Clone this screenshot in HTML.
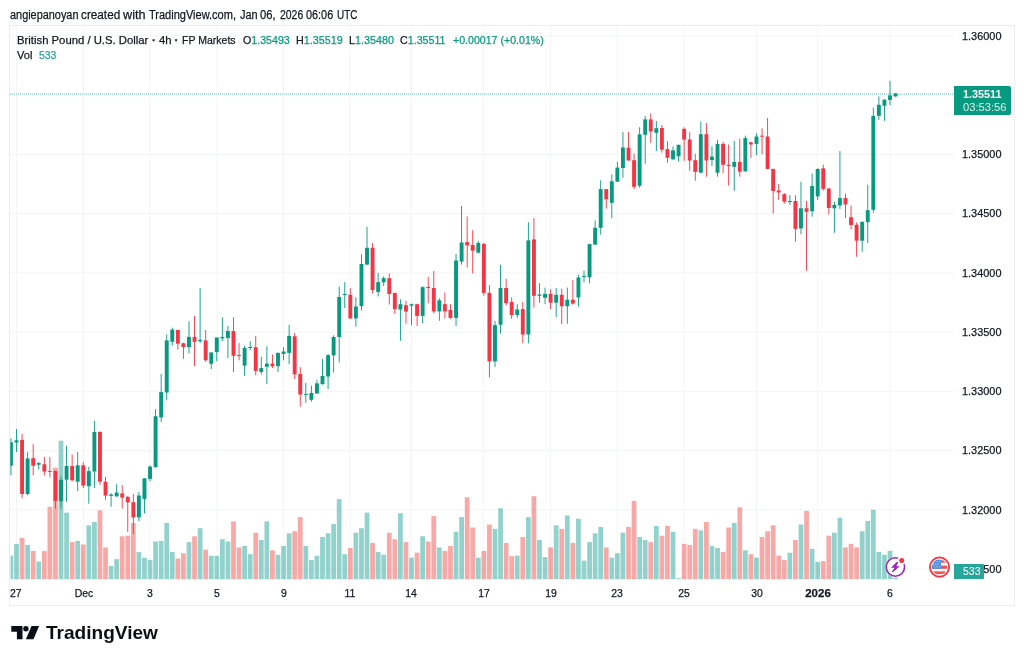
<!DOCTYPE html>
<html><head><meta charset="utf-8"><title>GBPUSD chart</title>
<style>
html,body{margin:0;padding:0;background:#fff;}
body{width:1024px;height:661px;position:relative;overflow:hidden;font-family:"Liberation Sans",sans-serif;color:#131722;}
.chart{position:absolute;left:0;top:0;}
.frame{position:absolute;left:9px;top:25px;width:1006px;height:581px;border:1px solid #ebecef;box-sizing:border-box;}
.t{position:absolute;white-space:nowrap;line-height:1;transform-origin:0 50%;-webkit-text-stroke:0.25px currentColor;}
.v{color:#089981;}
.pbox{position:absolute;left:954.2px;top:86px;width:56.7px;height:28.8px;background:#089981;border-radius:0 2px 2px 0;}
.vbox{position:absolute;left:954.2px;top:563.9px;width:30px;height:15.3px;background:#26a69a;border-radius:0 1px 1px 0;}
</style></head><body>
<div class="frame"></div>
<svg class="chart" width="1024" height="661" viewBox="0 0 1024 661">
<g stroke="#f3f4f6" stroke-width="1">
<line x1="16.5" y1="26" x2="16.5" y2="580"/>
<line x1="83.5" y1="26" x2="83.5" y2="580"/>
<line x1="150" y1="26" x2="150" y2="580"/>
<line x1="217" y1="26" x2="217" y2="580"/>
<line x1="283.5" y1="26" x2="283.5" y2="580"/>
<line x1="350" y1="26" x2="350" y2="580"/>
<line x1="411.3" y1="26" x2="411.3" y2="580"/>
<line x1="483.7" y1="26" x2="483.7" y2="580"/>
<line x1="550.5" y1="26" x2="550.5" y2="580"/>
<line x1="617.2" y1="26" x2="617.2" y2="580"/>
<line x1="684" y1="26" x2="684" y2="580"/>
<line x1="756.5" y1="26" x2="756.5" y2="580"/>
<line x1="817.6" y1="26" x2="817.6" y2="580"/>
<line x1="890" y1="26" x2="890" y2="580"/>
<line x1="10" y1="35.9" x2="954" y2="35.9"/>
<line x1="10" y1="95.15" x2="954" y2="95.15"/>
<line x1="10" y1="154.4" x2="954" y2="154.4"/>
<line x1="10" y1="213.65" x2="954" y2="213.65"/>
<line x1="10" y1="272.9" x2="954" y2="272.9"/>
<line x1="10" y1="332.15" x2="954" y2="332.15"/>
<line x1="10" y1="391.4" x2="954" y2="391.4"/>
<line x1="10" y1="450.65" x2="954" y2="450.65"/>
<line x1="10" y1="509.9" x2="954" y2="509.9"/>
<line x1="10" y1="569.15" x2="954" y2="569.15"/>
</g>
<g>
<rect x="10.50" y="555.6" width="2.82" height="23.6" fill="#26a69a" fill-opacity="0.5"/>
<rect x="14.12" y="543.9" width="4.76" height="35.3" fill="#26a69a" fill-opacity="0.5"/>
<rect x="19.68" y="538.0" width="4.76" height="41.2" fill="#ef5350" fill-opacity="0.5"/>
<rect x="25.25" y="545.0" width="4.76" height="34.2" fill="#26a69a" fill-opacity="0.5"/>
<rect x="30.81" y="550.9" width="4.76" height="28.3" fill="#ef5350" fill-opacity="0.5"/>
<rect x="36.37" y="561.6" width="4.76" height="17.6" fill="#26a69a" fill-opacity="0.5"/>
<rect x="41.94" y="550.9" width="4.76" height="28.3" fill="#ef5350" fill-opacity="0.5"/>
<rect x="47.50" y="506.8" width="4.76" height="72.4" fill="#ef5350" fill-opacity="0.5"/>
<rect x="53.07" y="467.6" width="4.76" height="111.6" fill="#ef5350" fill-opacity="0.5"/>
<rect x="58.63" y="440.7" width="4.76" height="138.5" fill="#26a69a" fill-opacity="0.5"/>
<rect x="64.19" y="512.6" width="4.76" height="66.6" fill="#26a69a" fill-opacity="0.5"/>
<rect x="69.76" y="542.1" width="4.76" height="37.1" fill="#ef5350" fill-opacity="0.5"/>
<rect x="75.32" y="540.9" width="4.76" height="38.3" fill="#26a69a" fill-opacity="0.5"/>
<rect x="80.88" y="544.5" width="4.76" height="34.7" fill="#ef5350" fill-opacity="0.5"/>
<rect x="86.45" y="525.3" width="4.76" height="53.9" fill="#26a69a" fill-opacity="0.5"/>
<rect x="92.01" y="522.0" width="4.76" height="57.2" fill="#26a69a" fill-opacity="0.5"/>
<rect x="97.58" y="510.3" width="4.76" height="68.9" fill="#ef5350" fill-opacity="0.5"/>
<rect x="103.14" y="547.4" width="4.76" height="31.8" fill="#ef5350" fill-opacity="0.5"/>
<rect x="108.70" y="565.9" width="4.76" height="13.3" fill="#26a69a" fill-opacity="0.5"/>
<rect x="114.27" y="559.1" width="4.76" height="20.1" fill="#26a69a" fill-opacity="0.5"/>
<rect x="119.83" y="536.3" width="4.76" height="42.9" fill="#ef5350" fill-opacity="0.5"/>
<rect x="125.39" y="535.7" width="4.76" height="43.5" fill="#ef5350" fill-opacity="0.5"/>
<rect x="130.96" y="523.0" width="4.76" height="56.2" fill="#ef5350" fill-opacity="0.5"/>
<rect x="136.52" y="551.9" width="4.76" height="27.3" fill="#26a69a" fill-opacity="0.5"/>
<rect x="142.09" y="557.7" width="4.76" height="21.5" fill="#26a69a" fill-opacity="0.5"/>
<rect x="147.65" y="560.1" width="4.76" height="19.1" fill="#26a69a" fill-opacity="0.5"/>
<rect x="153.21" y="541.5" width="4.76" height="37.7" fill="#26a69a" fill-opacity="0.5"/>
<rect x="158.78" y="540.9" width="4.76" height="38.3" fill="#26a69a" fill-opacity="0.5"/>
<rect x="164.34" y="523.0" width="4.76" height="56.2" fill="#26a69a" fill-opacity="0.5"/>
<rect x="169.90" y="551.9" width="4.76" height="27.3" fill="#26a69a" fill-opacity="0.5"/>
<rect x="175.47" y="558.5" width="4.76" height="20.7" fill="#ef5350" fill-opacity="0.5"/>
<rect x="181.03" y="553.2" width="4.76" height="26.0" fill="#ef5350" fill-opacity="0.5"/>
<rect x="186.59" y="542.1" width="4.76" height="37.1" fill="#26a69a" fill-opacity="0.5"/>
<rect x="192.16" y="536.3" width="4.76" height="42.9" fill="#ef5350" fill-opacity="0.5"/>
<rect x="197.72" y="528.2" width="4.76" height="51.0" fill="#26a69a" fill-opacity="0.5"/>
<rect x="203.29" y="549.7" width="4.76" height="29.5" fill="#ef5350" fill-opacity="0.5"/>
<rect x="208.85" y="555.8" width="4.76" height="23.4" fill="#26a69a" fill-opacity="0.5"/>
<rect x="214.41" y="555.8" width="4.76" height="23.4" fill="#26a69a" fill-opacity="0.5"/>
<rect x="219.98" y="539.2" width="4.76" height="40.0" fill="#26a69a" fill-opacity="0.5"/>
<rect x="225.54" y="541.5" width="4.76" height="37.7" fill="#26a69a" fill-opacity="0.5"/>
<rect x="231.10" y="521.4" width="4.76" height="57.8" fill="#ef5350" fill-opacity="0.5"/>
<rect x="236.67" y="547.4" width="4.76" height="31.8" fill="#ef5350" fill-opacity="0.5"/>
<rect x="242.23" y="546.0" width="4.76" height="33.2" fill="#26a69a" fill-opacity="0.5"/>
<rect x="247.80" y="554.2" width="4.76" height="25.0" fill="#26a69a" fill-opacity="0.5"/>
<rect x="253.36" y="532.7" width="4.76" height="46.5" fill="#ef5350" fill-opacity="0.5"/>
<rect x="258.92" y="540.0" width="4.76" height="39.2" fill="#26a69a" fill-opacity="0.5"/>
<rect x="264.49" y="521.4" width="4.76" height="57.8" fill="#26a69a" fill-opacity="0.5"/>
<rect x="270.05" y="550.3" width="4.76" height="28.9" fill="#ef5350" fill-opacity="0.5"/>
<rect x="275.61" y="554.8" width="4.76" height="24.4" fill="#26a69a" fill-opacity="0.5"/>
<rect x="281.18" y="546.0" width="4.76" height="33.2" fill="#26a69a" fill-opacity="0.5"/>
<rect x="286.74" y="533.3" width="4.76" height="45.9" fill="#26a69a" fill-opacity="0.5"/>
<rect x="292.31" y="531.2" width="4.76" height="48.0" fill="#ef5350" fill-opacity="0.5"/>
<rect x="297.87" y="517.1" width="4.76" height="62.1" fill="#ef5350" fill-opacity="0.5"/>
<rect x="303.43" y="546.0" width="4.76" height="33.2" fill="#26a69a" fill-opacity="0.5"/>
<rect x="309.00" y="560.1" width="4.76" height="19.1" fill="#26a69a" fill-opacity="0.5"/>
<rect x="314.56" y="555.8" width="4.76" height="23.4" fill="#26a69a" fill-opacity="0.5"/>
<rect x="320.12" y="537.0" width="4.76" height="42.2" fill="#26a69a" fill-opacity="0.5"/>
<rect x="325.69" y="533.3" width="4.76" height="45.9" fill="#26a69a" fill-opacity="0.5"/>
<rect x="331.25" y="523.9" width="4.76" height="55.3" fill="#26a69a" fill-opacity="0.5"/>
<rect x="336.81" y="499.1" width="4.76" height="80.1" fill="#26a69a" fill-opacity="0.5"/>
<rect x="342.38" y="554.2" width="4.76" height="25.0" fill="#26a69a" fill-opacity="0.5"/>
<rect x="347.94" y="548.0" width="4.76" height="31.2" fill="#ef5350" fill-opacity="0.5"/>
<rect x="353.51" y="532.7" width="4.76" height="46.5" fill="#26a69a" fill-opacity="0.5"/>
<rect x="359.07" y="528.2" width="4.76" height="51.0" fill="#26a69a" fill-opacity="0.5"/>
<rect x="364.63" y="512.6" width="4.76" height="66.6" fill="#26a69a" fill-opacity="0.5"/>
<rect x="370.20" y="542.9" width="4.76" height="36.3" fill="#ef5350" fill-opacity="0.5"/>
<rect x="375.76" y="551.9" width="4.76" height="27.3" fill="#26a69a" fill-opacity="0.5"/>
<rect x="381.32" y="554.8" width="4.76" height="24.4" fill="#26a69a" fill-opacity="0.5"/>
<rect x="386.89" y="532.7" width="4.76" height="46.5" fill="#ef5350" fill-opacity="0.5"/>
<rect x="392.45" y="539.2" width="4.76" height="40.0" fill="#ef5350" fill-opacity="0.5"/>
<rect x="398.02" y="513.2" width="4.76" height="66.0" fill="#26a69a" fill-opacity="0.5"/>
<rect x="403.58" y="542.1" width="4.76" height="37.1" fill="#ef5350" fill-opacity="0.5"/>
<rect x="409.14" y="557.7" width="4.76" height="21.5" fill="#26a69a" fill-opacity="0.5"/>
<rect x="414.71" y="552.7" width="4.76" height="26.5" fill="#ef5350" fill-opacity="0.5"/>
<rect x="420.27" y="536.3" width="4.76" height="42.9" fill="#26a69a" fill-opacity="0.5"/>
<rect x="425.83" y="541.5" width="4.76" height="37.7" fill="#ef5350" fill-opacity="0.5"/>
<rect x="431.40" y="516.1" width="4.76" height="63.1" fill="#ef5350" fill-opacity="0.5"/>
<rect x="436.96" y="547.4" width="4.76" height="31.8" fill="#26a69a" fill-opacity="0.5"/>
<rect x="442.52" y="550.9" width="4.76" height="28.3" fill="#ef5350" fill-opacity="0.5"/>
<rect x="448.09" y="546.0" width="4.76" height="33.2" fill="#ef5350" fill-opacity="0.5"/>
<rect x="453.65" y="531.8" width="4.76" height="47.4" fill="#26a69a" fill-opacity="0.5"/>
<rect x="459.22" y="517.1" width="4.76" height="62.1" fill="#26a69a" fill-opacity="0.5"/>
<rect x="464.78" y="497.2" width="4.76" height="82.0" fill="#ef5350" fill-opacity="0.5"/>
<rect x="470.34" y="527.5" width="4.76" height="51.7" fill="#ef5350" fill-opacity="0.5"/>
<rect x="475.91" y="557.7" width="4.76" height="21.5" fill="#26a69a" fill-opacity="0.5"/>
<rect x="481.47" y="550.9" width="4.76" height="28.3" fill="#ef5350" fill-opacity="0.5"/>
<rect x="487.03" y="524.5" width="4.76" height="54.7" fill="#ef5350" fill-opacity="0.5"/>
<rect x="492.60" y="528.8" width="4.76" height="50.4" fill="#26a69a" fill-opacity="0.5"/>
<rect x="498.16" y="508.3" width="4.76" height="70.9" fill="#26a69a" fill-opacity="0.5"/>
<rect x="503.73" y="542.9" width="4.76" height="36.3" fill="#ef5350" fill-opacity="0.5"/>
<rect x="509.29" y="556.2" width="4.76" height="23.0" fill="#ef5350" fill-opacity="0.5"/>
<rect x="514.85" y="555.6" width="4.76" height="23.6" fill="#26a69a" fill-opacity="0.5"/>
<rect x="520.42" y="537.0" width="4.76" height="42.2" fill="#ef5350" fill-opacity="0.5"/>
<rect x="525.98" y="517.1" width="4.76" height="62.1" fill="#26a69a" fill-opacity="0.5"/>
<rect x="531.54" y="496.2" width="4.76" height="83.0" fill="#ef5350" fill-opacity="0.5"/>
<rect x="537.11" y="540.0" width="4.76" height="39.2" fill="#26a69a" fill-opacity="0.5"/>
<rect x="542.67" y="557.1" width="4.76" height="22.1" fill="#26a69a" fill-opacity="0.5"/>
<rect x="548.24" y="547.4" width="4.76" height="31.8" fill="#ef5350" fill-opacity="0.5"/>
<rect x="553.80" y="525.3" width="4.76" height="53.9" fill="#26a69a" fill-opacity="0.5"/>
<rect x="559.36" y="528.8" width="4.76" height="50.4" fill="#ef5350" fill-opacity="0.5"/>
<rect x="564.93" y="515.5" width="4.76" height="63.7" fill="#26a69a" fill-opacity="0.5"/>
<rect x="570.49" y="542.9" width="4.76" height="36.3" fill="#ef5350" fill-opacity="0.5"/>
<rect x="576.05" y="518.7" width="4.76" height="60.5" fill="#26a69a" fill-opacity="0.5"/>
<rect x="581.62" y="560.7" width="4.76" height="18.5" fill="#26a69a" fill-opacity="0.5"/>
<rect x="587.18" y="542.1" width="4.76" height="37.1" fill="#26a69a" fill-opacity="0.5"/>
<rect x="592.74" y="533.3" width="4.76" height="45.9" fill="#26a69a" fill-opacity="0.5"/>
<rect x="598.31" y="526.9" width="4.76" height="52.3" fill="#26a69a" fill-opacity="0.5"/>
<rect x="603.87" y="547.4" width="4.76" height="31.8" fill="#ef5350" fill-opacity="0.5"/>
<rect x="609.44" y="557.7" width="4.76" height="21.5" fill="#26a69a" fill-opacity="0.5"/>
<rect x="615.00" y="553.2" width="4.76" height="26.0" fill="#26a69a" fill-opacity="0.5"/>
<rect x="620.56" y="532.7" width="4.76" height="46.5" fill="#26a69a" fill-opacity="0.5"/>
<rect x="626.13" y="526.9" width="4.76" height="52.3" fill="#ef5350" fill-opacity="0.5"/>
<rect x="631.69" y="500.9" width="4.76" height="78.3" fill="#ef5350" fill-opacity="0.5"/>
<rect x="637.25" y="537.0" width="4.76" height="42.2" fill="#26a69a" fill-opacity="0.5"/>
<rect x="642.82" y="540.0" width="4.76" height="39.2" fill="#26a69a" fill-opacity="0.5"/>
<rect x="648.38" y="542.1" width="4.76" height="37.1" fill="#ef5350" fill-opacity="0.5"/>
<rect x="653.95" y="525.9" width="4.76" height="53.3" fill="#26a69a" fill-opacity="0.5"/>
<rect x="659.51" y="535.7" width="4.76" height="43.5" fill="#ef5350" fill-opacity="0.5"/>
<rect x="665.07" y="525.9" width="4.76" height="53.3" fill="#ef5350" fill-opacity="0.5"/>
<rect x="670.64" y="531.8" width="4.76" height="47.4" fill="#26a69a" fill-opacity="0.5"/>
<rect x="676.20" y="578.2" width="4.76" height="1.0" fill="#26a69a" fill-opacity="0.5"/>
<rect x="681.76" y="543.9" width="4.76" height="35.3" fill="#ef5350" fill-opacity="0.5"/>
<rect x="687.33" y="545.0" width="4.76" height="34.2" fill="#ef5350" fill-opacity="0.5"/>
<rect x="692.89" y="528.8" width="4.76" height="50.4" fill="#ef5350" fill-opacity="0.5"/>
<rect x="698.46" y="530.4" width="4.76" height="48.8" fill="#26a69a" fill-opacity="0.5"/>
<rect x="704.02" y="522.0" width="4.76" height="57.2" fill="#ef5350" fill-opacity="0.5"/>
<rect x="709.58" y="546.0" width="4.76" height="33.2" fill="#26a69a" fill-opacity="0.5"/>
<rect x="715.15" y="548.0" width="4.76" height="31.2" fill="#26a69a" fill-opacity="0.5"/>
<rect x="720.71" y="551.9" width="4.76" height="27.3" fill="#ef5350" fill-opacity="0.5"/>
<rect x="726.27" y="527.5" width="4.76" height="51.7" fill="#ef5350" fill-opacity="0.5"/>
<rect x="731.84" y="523.0" width="4.76" height="56.2" fill="#26a69a" fill-opacity="0.5"/>
<rect x="737.40" y="507.3" width="4.76" height="71.9" fill="#ef5350" fill-opacity="0.5"/>
<rect x="742.96" y="550.3" width="4.76" height="28.9" fill="#26a69a" fill-opacity="0.5"/>
<rect x="748.53" y="554.2" width="4.76" height="25.0" fill="#ef5350" fill-opacity="0.5"/>
<rect x="754.09" y="557.7" width="4.76" height="21.5" fill="#26a69a" fill-opacity="0.5"/>
<rect x="759.66" y="537.0" width="4.76" height="42.2" fill="#ef5350" fill-opacity="0.5"/>
<rect x="765.22" y="531.2" width="4.76" height="48.0" fill="#ef5350" fill-opacity="0.5"/>
<rect x="770.78" y="525.3" width="4.76" height="53.9" fill="#ef5350" fill-opacity="0.5"/>
<rect x="776.35" y="555.6" width="4.76" height="23.6" fill="#ef5350" fill-opacity="0.5"/>
<rect x="781.91" y="560.1" width="4.76" height="19.1" fill="#ef5350" fill-opacity="0.5"/>
<rect x="787.47" y="552.7" width="4.76" height="26.5" fill="#26a69a" fill-opacity="0.5"/>
<rect x="793.04" y="540.0" width="4.76" height="39.2" fill="#ef5350" fill-opacity="0.5"/>
<rect x="798.60" y="524.5" width="4.76" height="54.7" fill="#26a69a" fill-opacity="0.5"/>
<rect x="804.17" y="510.9" width="4.76" height="68.3" fill="#ef5350" fill-opacity="0.5"/>
<rect x="809.73" y="548.9" width="4.76" height="30.3" fill="#26a69a" fill-opacity="0.5"/>
<rect x="815.29" y="562.0" width="4.76" height="17.2" fill="#26a69a" fill-opacity="0.5"/>
<rect x="820.86" y="561.1" width="4.76" height="18.1" fill="#ef5350" fill-opacity="0.5"/>
<rect x="826.42" y="535.7" width="4.76" height="43.5" fill="#ef5350" fill-opacity="0.5"/>
<rect x="831.98" y="532.7" width="4.76" height="46.5" fill="#26a69a" fill-opacity="0.5"/>
<rect x="837.55" y="517.7" width="4.76" height="61.5" fill="#26a69a" fill-opacity="0.5"/>
<rect x="843.11" y="547.4" width="4.76" height="31.8" fill="#ef5350" fill-opacity="0.5"/>
<rect x="848.67" y="543.9" width="4.76" height="35.3" fill="#ef5350" fill-opacity="0.5"/>
<rect x="854.24" y="547.4" width="4.76" height="31.8" fill="#ef5350" fill-opacity="0.5"/>
<rect x="859.80" y="531.2" width="4.76" height="48.0" fill="#26a69a" fill-opacity="0.5"/>
<rect x="865.37" y="521.0" width="4.76" height="58.2" fill="#26a69a" fill-opacity="0.5"/>
<rect x="870.93" y="509.7" width="4.76" height="69.5" fill="#26a69a" fill-opacity="0.5"/>
<rect x="876.49" y="551.9" width="4.76" height="27.3" fill="#26a69a" fill-opacity="0.5"/>
<rect x="882.06" y="554.8" width="4.76" height="24.4" fill="#26a69a" fill-opacity="0.5"/>
<rect x="887.62" y="550.9" width="4.76" height="28.3" fill="#26a69a" fill-opacity="0.5"/>
<rect x="893.18" y="577.7" width="4.76" height="1.5" fill="#26a69a" fill-opacity="0.5"/>
</g>
<g>
<rect x="10.49" y="438.3" width="0.9" height="37.1" fill="#089981"/>
<rect x="10.50" y="442.2" width="2.39" height="23.5" fill="#089981"/>
<rect x="16.05" y="428.9" width="0.9" height="23.1" fill="#089981"/>
<rect x="14.55" y="440.3" width="3.90" height="2.3" fill="#089981"/>
<rect x="21.61" y="434.0" width="0.9" height="64.3" fill="#f23645"/>
<rect x="20.11" y="439.9" width="3.90" height="54.1" fill="#f23645"/>
<rect x="27.18" y="452.0" width="0.9" height="43.4" fill="#089981"/>
<rect x="25.68" y="458.4" width="3.90" height="35.6" fill="#089981"/>
<rect x="32.74" y="444.2" width="0.9" height="31.2" fill="#f23645"/>
<rect x="31.24" y="458.2" width="3.90" height="7.5" fill="#f23645"/>
<rect x="38.30" y="461.8" width="0.9" height="7.8" fill="#089981"/>
<rect x="36.80" y="463.1" width="3.90" height="1.6" fill="#089981"/>
<rect x="43.87" y="456.9" width="0.9" height="18.5" fill="#f23645"/>
<rect x="42.37" y="464.3" width="3.90" height="7.2" fill="#f23645"/>
<rect x="49.43" y="456.9" width="0.9" height="20.5" fill="#f23645"/>
<rect x="47.93" y="470.9" width="3.90" height="1.0" fill="#f23645"/>
<rect x="55.00" y="470.9" width="0.9" height="37.7" fill="#f23645"/>
<rect x="53.50" y="470.9" width="3.90" height="29.9" fill="#f23645"/>
<rect x="60.56" y="476.4" width="0.9" height="32.2" fill="#089981"/>
<rect x="59.06" y="479.9" width="3.90" height="21.3" fill="#089981"/>
<rect x="66.12" y="445.7" width="0.9" height="56.1" fill="#089981"/>
<rect x="64.62" y="466.0" width="3.90" height="13.7" fill="#089981"/>
<rect x="71.69" y="454.5" width="0.9" height="26.8" fill="#f23645"/>
<rect x="70.19" y="466.0" width="3.90" height="14.3" fill="#f23645"/>
<rect x="77.25" y="452.0" width="0.9" height="39.0" fill="#089981"/>
<rect x="75.75" y="465.3" width="3.90" height="16.4" fill="#089981"/>
<rect x="82.81" y="462.1" width="0.9" height="26.0" fill="#f23645"/>
<rect x="81.31" y="465.3" width="3.90" height="20.3" fill="#f23645"/>
<rect x="88.38" y="466.6" width="0.9" height="37.1" fill="#089981"/>
<rect x="86.88" y="471.1" width="3.90" height="15.1" fill="#089981"/>
<rect x="93.94" y="420.7" width="0.9" height="67.4" fill="#089981"/>
<rect x="92.44" y="431.9" width="3.90" height="39.6" fill="#089981"/>
<rect x="99.51" y="431.5" width="0.9" height="53.3" fill="#f23645"/>
<rect x="98.01" y="431.9" width="3.90" height="49.8" fill="#f23645"/>
<rect x="105.07" y="477.0" width="0.9" height="22.8" fill="#f23645"/>
<rect x="103.57" y="481.7" width="3.90" height="13.8" fill="#f23645"/>
<rect x="110.63" y="493.0" width="0.9" height="13.7" fill="#089981"/>
<rect x="109.13" y="494.6" width="3.90" height="1.3" fill="#089981"/>
<rect x="116.20" y="484.2" width="0.9" height="12.7" fill="#089981"/>
<rect x="114.70" y="492.6" width="3.90" height="3.7" fill="#089981"/>
<rect x="121.76" y="485.2" width="0.9" height="23.4" fill="#f23645"/>
<rect x="120.26" y="493.4" width="3.90" height="4.1" fill="#f23645"/>
<rect x="127.32" y="495.9" width="0.9" height="36.1" fill="#f23645"/>
<rect x="125.82" y="496.9" width="3.90" height="5.5" fill="#f23645"/>
<rect x="132.89" y="494.0" width="0.9" height="40.0" fill="#f23645"/>
<rect x="131.39" y="502.2" width="3.90" height="15.2" fill="#f23645"/>
<rect x="138.45" y="492.0" width="0.9" height="29.3" fill="#089981"/>
<rect x="136.95" y="495.5" width="3.90" height="21.9" fill="#089981"/>
<rect x="144.02" y="478.0" width="0.9" height="35.5" fill="#089981"/>
<rect x="142.52" y="478.4" width="3.90" height="20.5" fill="#089981"/>
<rect x="149.58" y="465.3" width="0.9" height="16.0" fill="#089981"/>
<rect x="148.08" y="466.6" width="3.90" height="12.3" fill="#089981"/>
<rect x="155.14" y="409.1" width="0.9" height="58.5" fill="#089981"/>
<rect x="153.64" y="416.2" width="3.90" height="51.0" fill="#089981"/>
<rect x="160.71" y="374.0" width="0.9" height="48.1" fill="#089981"/>
<rect x="159.21" y="392.1" width="3.90" height="25.3" fill="#089981"/>
<rect x="166.27" y="334.5" width="0.9" height="65.9" fill="#089981"/>
<rect x="164.77" y="340.4" width="3.90" height="52.1" fill="#089981"/>
<rect x="171.83" y="327.7" width="0.9" height="18.0" fill="#089981"/>
<rect x="170.33" y="329.6" width="3.90" height="12.2" fill="#089981"/>
<rect x="177.40" y="329.6" width="0.9" height="20.0" fill="#f23645"/>
<rect x="175.90" y="330.0" width="3.90" height="13.7" fill="#f23645"/>
<rect x="182.96" y="342.7" width="0.9" height="16.1" fill="#f23645"/>
<rect x="181.46" y="343.3" width="3.90" height="3.7" fill="#f23645"/>
<rect x="188.52" y="321.3" width="0.9" height="32.2" fill="#089981"/>
<rect x="187.02" y="336.9" width="3.90" height="10.1" fill="#089981"/>
<rect x="194.09" y="316.0" width="0.9" height="50.2" fill="#f23645"/>
<rect x="192.59" y="336.9" width="3.90" height="4.9" fill="#f23645"/>
<rect x="199.65" y="288.0" width="0.9" height="55.1" fill="#089981"/>
<rect x="198.15" y="339.8" width="3.90" height="1.4" fill="#089981"/>
<rect x="205.22" y="330.0" width="0.9" height="31.7" fill="#f23645"/>
<rect x="203.72" y="340.4" width="3.90" height="19.9" fill="#f23645"/>
<rect x="210.78" y="352.1" width="0.9" height="17.0" fill="#089981"/>
<rect x="209.28" y="352.5" width="3.90" height="11.3" fill="#089981"/>
<rect x="216.34" y="337.5" width="0.9" height="23.8" fill="#089981"/>
<rect x="214.84" y="337.5" width="3.90" height="14.6" fill="#089981"/>
<rect x="221.91" y="317.3" width="0.9" height="23.5" fill="#089981"/>
<rect x="220.41" y="336.9" width="3.90" height="1.5" fill="#089981"/>
<rect x="227.47" y="325.7" width="0.9" height="32.3" fill="#089981"/>
<rect x="225.97" y="331.0" width="3.90" height="6.9" fill="#089981"/>
<rect x="233.03" y="317.3" width="0.9" height="54.7" fill="#f23645"/>
<rect x="231.53" y="331.0" width="3.90" height="24.8" fill="#f23645"/>
<rect x="238.60" y="343.1" width="0.9" height="17.2" fill="#f23645"/>
<rect x="237.10" y="355.0" width="3.90" height="1.0" fill="#f23645"/>
<rect x="244.16" y="345.7" width="0.9" height="30.2" fill="#089981"/>
<rect x="242.66" y="348.0" width="3.90" height="17.6" fill="#089981"/>
<rect x="249.73" y="341.2" width="0.9" height="9.0" fill="#089981"/>
<rect x="248.23" y="347.0" width="3.90" height="1.0" fill="#089981"/>
<rect x="255.29" y="335.9" width="0.9" height="39.5" fill="#f23645"/>
<rect x="253.79" y="347.2" width="3.90" height="23.8" fill="#f23645"/>
<rect x="260.85" y="357.0" width="0.9" height="17.4" fill="#089981"/>
<rect x="259.35" y="368.1" width="3.90" height="3.9" fill="#089981"/>
<rect x="266.42" y="346.3" width="0.9" height="37.8" fill="#089981"/>
<rect x="264.92" y="363.6" width="3.90" height="3.2" fill="#089981"/>
<rect x="271.98" y="354.5" width="0.9" height="13.6" fill="#f23645"/>
<rect x="270.48" y="363.6" width="3.90" height="2.6" fill="#f23645"/>
<rect x="277.54" y="352.5" width="0.9" height="19.5" fill="#089981"/>
<rect x="276.04" y="352.9" width="3.90" height="13.3" fill="#089981"/>
<rect x="283.11" y="347.2" width="0.9" height="13.1" fill="#089981"/>
<rect x="281.61" y="351.5" width="3.90" height="2.4" fill="#089981"/>
<rect x="288.67" y="324.8" width="0.9" height="39.4" fill="#089981"/>
<rect x="287.17" y="335.9" width="3.90" height="17.0" fill="#089981"/>
<rect x="294.24" y="333.0" width="0.9" height="45.9" fill="#f23645"/>
<rect x="292.74" y="336.3" width="3.90" height="38.1" fill="#f23645"/>
<rect x="299.80" y="367.1" width="0.9" height="39.5" fill="#f23645"/>
<rect x="298.30" y="374.0" width="3.90" height="20.5" fill="#f23645"/>
<rect x="305.36" y="382.8" width="0.9" height="19.9" fill="#089981"/>
<rect x="303.86" y="393.9" width="3.90" height="1.0" fill="#089981"/>
<rect x="310.93" y="385.7" width="0.9" height="16.0" fill="#089981"/>
<rect x="309.43" y="392.9" width="3.90" height="6.9" fill="#089981"/>
<rect x="316.49" y="379.8" width="0.9" height="13.7" fill="#089981"/>
<rect x="314.99" y="383.4" width="3.90" height="10.1" fill="#089981"/>
<rect x="322.05" y="358.9" width="0.9" height="25.8" fill="#089981"/>
<rect x="320.55" y="375.9" width="3.90" height="8.2" fill="#089981"/>
<rect x="327.62" y="354.0" width="0.9" height="35.0" fill="#089981"/>
<rect x="326.12" y="355.2" width="3.90" height="21.3" fill="#089981"/>
<rect x="333.18" y="335.4" width="0.9" height="37.1" fill="#089981"/>
<rect x="331.68" y="337.0" width="3.90" height="18.4" fill="#089981"/>
<rect x="338.74" y="286.6" width="0.9" height="75.8" fill="#089981"/>
<rect x="337.24" y="297.0" width="3.90" height="40.0" fill="#089981"/>
<rect x="344.31" y="282.1" width="0.9" height="26.0" fill="#089981"/>
<rect x="342.81" y="294.0" width="3.90" height="1.0" fill="#089981"/>
<rect x="349.87" y="288.2" width="0.9" height="30.6" fill="#f23645"/>
<rect x="348.37" y="294.8" width="3.90" height="23.6" fill="#f23645"/>
<rect x="355.44" y="297.3" width="0.9" height="29.3" fill="#089981"/>
<rect x="353.94" y="306.5" width="3.90" height="11.9" fill="#089981"/>
<rect x="361.00" y="254.2" width="0.9" height="56.2" fill="#089981"/>
<rect x="359.50" y="264.0" width="3.90" height="42.1" fill="#089981"/>
<rect x="366.56" y="226.9" width="0.9" height="38.1" fill="#089981"/>
<rect x="365.06" y="247.8" width="3.90" height="16.8" fill="#089981"/>
<rect x="372.13" y="243.1" width="0.9" height="50.2" fill="#f23645"/>
<rect x="370.63" y="247.8" width="3.90" height="42.2" fill="#f23645"/>
<rect x="377.69" y="272.9" width="0.9" height="23.5" fill="#089981"/>
<rect x="376.19" y="282.1" width="3.90" height="9.8" fill="#089981"/>
<rect x="383.25" y="276.4" width="0.9" height="9.6" fill="#089981"/>
<rect x="381.75" y="278.2" width="3.90" height="4.1" fill="#089981"/>
<rect x="388.82" y="273.5" width="0.9" height="31.1" fill="#f23645"/>
<rect x="387.32" y="278.2" width="3.90" height="15.8" fill="#f23645"/>
<rect x="394.38" y="292.5" width="0.9" height="21.4" fill="#f23645"/>
<rect x="392.88" y="293.0" width="3.90" height="16.1" fill="#f23645"/>
<rect x="399.95" y="299.3" width="0.9" height="41.4" fill="#089981"/>
<rect x="398.45" y="304.2" width="3.90" height="5.4" fill="#089981"/>
<rect x="405.51" y="300.7" width="0.9" height="23.0" fill="#f23645"/>
<rect x="404.01" y="305.2" width="3.90" height="6.4" fill="#f23645"/>
<rect x="411.07" y="303.6" width="0.9" height="21.7" fill="#089981"/>
<rect x="409.57" y="304.2" width="3.90" height="1.5" fill="#089981"/>
<rect x="416.64" y="303.6" width="0.9" height="22.4" fill="#f23645"/>
<rect x="415.14" y="304.2" width="3.90" height="11.7" fill="#f23645"/>
<rect x="422.20" y="286.2" width="0.9" height="36.9" fill="#089981"/>
<rect x="420.70" y="287.2" width="3.90" height="28.7" fill="#089981"/>
<rect x="427.76" y="276.8" width="0.9" height="26.4" fill="#f23645"/>
<rect x="426.26" y="287.0" width="3.90" height="1.0" fill="#f23645"/>
<rect x="433.33" y="271.0" width="0.9" height="42.4" fill="#f23645"/>
<rect x="431.83" y="288.0" width="3.90" height="23.4" fill="#f23645"/>
<rect x="438.89" y="298.3" width="0.9" height="22.5" fill="#089981"/>
<rect x="437.39" y="300.3" width="3.90" height="11.1" fill="#089981"/>
<rect x="444.45" y="292.5" width="0.9" height="25.9" fill="#f23645"/>
<rect x="442.95" y="304.2" width="3.90" height="7.2" fill="#f23645"/>
<rect x="450.02" y="304.2" width="0.9" height="14.6" fill="#f23645"/>
<rect x="448.52" y="310.0" width="3.90" height="7.9" fill="#f23645"/>
<rect x="455.58" y="253.8" width="0.9" height="72.2" fill="#089981"/>
<rect x="454.08" y="260.5" width="3.90" height="57.4" fill="#089981"/>
<rect x="461.15" y="206.0" width="0.9" height="58.6" fill="#089981"/>
<rect x="459.65" y="242.5" width="3.90" height="19.1" fill="#089981"/>
<rect x="466.71" y="216.5" width="0.9" height="51.0" fill="#f23645"/>
<rect x="465.21" y="242.1" width="3.90" height="3.3" fill="#f23645"/>
<rect x="472.27" y="230.2" width="0.9" height="43.2" fill="#f23645"/>
<rect x="470.77" y="245.0" width="3.90" height="5.7" fill="#f23645"/>
<rect x="477.84" y="240.9" width="0.9" height="12.3" fill="#089981"/>
<rect x="476.34" y="242.9" width="3.90" height="9.8" fill="#089981"/>
<rect x="483.40" y="242.9" width="0.9" height="52.8" fill="#f23645"/>
<rect x="481.90" y="243.9" width="3.90" height="49.0" fill="#f23645"/>
<rect x="488.96" y="285.2" width="0.9" height="92.2" fill="#f23645"/>
<rect x="487.46" y="292.9" width="3.90" height="68.5" fill="#f23645"/>
<rect x="494.53" y="321.0" width="0.9" height="46.1" fill="#089981"/>
<rect x="493.03" y="325.1" width="3.90" height="36.3" fill="#089981"/>
<rect x="500.09" y="264.8" width="0.9" height="68.7" fill="#089981"/>
<rect x="498.59" y="288.0" width="3.90" height="36.7" fill="#089981"/>
<rect x="505.66" y="278.8" width="0.9" height="26.8" fill="#f23645"/>
<rect x="504.16" y="288.0" width="3.90" height="15.2" fill="#f23645"/>
<rect x="511.22" y="297.4" width="0.9" height="21.5" fill="#f23645"/>
<rect x="509.72" y="301.9" width="3.90" height="13.1" fill="#f23645"/>
<rect x="516.78" y="304.2" width="0.9" height="13.7" fill="#089981"/>
<rect x="515.28" y="309.5" width="3.90" height="5.5" fill="#089981"/>
<rect x="522.35" y="301.9" width="0.9" height="41.0" fill="#f23645"/>
<rect x="520.85" y="309.1" width="3.90" height="25.4" fill="#f23645"/>
<rect x="527.91" y="222.3" width="0.9" height="121.0" fill="#089981"/>
<rect x="526.41" y="240.4" width="3.90" height="94.1" fill="#089981"/>
<rect x="533.47" y="218.0" width="0.9" height="89.7" fill="#f23645"/>
<rect x="531.97" y="239.4" width="3.90" height="56.4" fill="#f23645"/>
<rect x="539.04" y="283.1" width="0.9" height="19.6" fill="#089981"/>
<rect x="537.54" y="294.5" width="3.90" height="1.3" fill="#089981"/>
<rect x="544.60" y="287.6" width="0.9" height="16.6" fill="#089981"/>
<rect x="543.10" y="293.9" width="3.90" height="3.9" fill="#089981"/>
<rect x="550.17" y="289.2" width="0.9" height="19.9" fill="#f23645"/>
<rect x="548.67" y="293.9" width="3.90" height="8.8" fill="#f23645"/>
<rect x="555.73" y="288.0" width="0.9" height="28.9" fill="#089981"/>
<rect x="554.23" y="294.8" width="3.90" height="7.9" fill="#089981"/>
<rect x="561.29" y="288.6" width="0.9" height="35.5" fill="#f23645"/>
<rect x="559.79" y="294.8" width="3.90" height="11.4" fill="#f23645"/>
<rect x="566.86" y="287.6" width="0.9" height="36.2" fill="#089981"/>
<rect x="565.36" y="299.7" width="3.90" height="6.5" fill="#089981"/>
<rect x="572.42" y="279.8" width="0.9" height="24.8" fill="#f23645"/>
<rect x="570.92" y="299.7" width="3.90" height="3.9" fill="#f23645"/>
<rect x="577.98" y="274.9" width="0.9" height="31.7" fill="#089981"/>
<rect x="576.48" y="277.5" width="3.90" height="19.9" fill="#089981"/>
<rect x="583.55" y="270.6" width="0.9" height="11.7" fill="#089981"/>
<rect x="582.05" y="275.9" width="3.90" height="1.0" fill="#089981"/>
<rect x="589.11" y="243.7" width="0.9" height="39.4" fill="#089981"/>
<rect x="587.61" y="244.1" width="3.90" height="33.2" fill="#089981"/>
<rect x="594.67" y="220.4" width="0.9" height="24.8" fill="#089981"/>
<rect x="593.17" y="227.8" width="3.90" height="16.8" fill="#089981"/>
<rect x="600.24" y="180.3" width="0.9" height="54.3" fill="#089981"/>
<rect x="598.74" y="189.1" width="3.90" height="38.7" fill="#089981"/>
<rect x="605.80" y="189.1" width="0.9" height="19.5" fill="#f23645"/>
<rect x="604.30" y="189.1" width="3.90" height="10.2" fill="#f23645"/>
<rect x="611.37" y="174.5" width="0.9" height="43.9" fill="#089981"/>
<rect x="609.87" y="181.3" width="3.90" height="21.5" fill="#089981"/>
<rect x="616.93" y="161.8" width="0.9" height="20.1" fill="#089981"/>
<rect x="615.43" y="167.6" width="3.90" height="14.1" fill="#089981"/>
<rect x="622.49" y="132.1" width="0.9" height="45.7" fill="#089981"/>
<rect x="620.99" y="147.5" width="3.90" height="20.5" fill="#089981"/>
<rect x="628.06" y="132.1" width="0.9" height="28.7" fill="#f23645"/>
<rect x="626.56" y="147.7" width="3.90" height="12.7" fill="#f23645"/>
<rect x="633.62" y="153.4" width="0.9" height="35.7" fill="#f23645"/>
<rect x="632.12" y="160.2" width="3.90" height="26.6" fill="#f23645"/>
<rect x="639.18" y="127.2" width="0.9" height="60.5" fill="#089981"/>
<rect x="637.68" y="134.4" width="3.90" height="51.4" fill="#089981"/>
<rect x="644.75" y="115.9" width="0.9" height="47.8" fill="#089981"/>
<rect x="643.25" y="119.4" width="3.90" height="15.4" fill="#089981"/>
<rect x="650.31" y="113.3" width="0.9" height="29.5" fill="#f23645"/>
<rect x="648.81" y="119.4" width="3.90" height="12.1" fill="#f23645"/>
<rect x="655.88" y="121.0" width="0.9" height="30.1" fill="#089981"/>
<rect x="654.38" y="128.2" width="3.90" height="4.6" fill="#089981"/>
<rect x="661.44" y="125.1" width="0.9" height="27.6" fill="#f23645"/>
<rect x="659.94" y="128.0" width="3.90" height="21.7" fill="#f23645"/>
<rect x="667.00" y="141.1" width="0.9" height="21.7" fill="#f23645"/>
<rect x="665.50" y="149.0" width="3.90" height="8.8" fill="#f23645"/>
<rect x="672.57" y="146.3" width="0.9" height="13.9" fill="#089981"/>
<rect x="671.07" y="150.4" width="3.90" height="8.8" fill="#089981"/>
<rect x="678.13" y="144.5" width="0.9" height="17.0" fill="#089981"/>
<rect x="676.63" y="144.9" width="3.90" height="11.4" fill="#089981"/>
<rect x="683.69" y="127.3" width="0.9" height="33.6" fill="#f23645"/>
<rect x="682.19" y="128.9" width="3.90" height="10.7" fill="#f23645"/>
<rect x="689.26" y="132.2" width="0.9" height="38.5" fill="#f23645"/>
<rect x="687.76" y="139.5" width="3.90" height="21.0" fill="#f23645"/>
<rect x="694.82" y="153.7" width="0.9" height="27.0" fill="#f23645"/>
<rect x="693.32" y="160.2" width="3.90" height="11.7" fill="#f23645"/>
<rect x="700.39" y="121.5" width="0.9" height="51.7" fill="#089981"/>
<rect x="698.89" y="134.2" width="3.90" height="38.5" fill="#089981"/>
<rect x="705.95" y="123.0" width="0.9" height="53.6" fill="#f23645"/>
<rect x="704.45" y="134.2" width="3.90" height="26.3" fill="#f23645"/>
<rect x="711.51" y="146.3" width="0.9" height="19.7" fill="#089981"/>
<rect x="710.01" y="156.6" width="3.90" height="3.4" fill="#089981"/>
<rect x="717.08" y="140.0" width="0.9" height="36.6" fill="#089981"/>
<rect x="715.58" y="143.9" width="3.90" height="28.8" fill="#089981"/>
<rect x="722.64" y="142.0" width="0.9" height="31.2" fill="#f23645"/>
<rect x="721.14" y="143.9" width="3.90" height="20.9" fill="#f23645"/>
<rect x="728.20" y="144.5" width="0.9" height="41.0" fill="#f23645"/>
<rect x="726.70" y="164.8" width="3.90" height="1.2" fill="#f23645"/>
<rect x="733.77" y="141.0" width="0.9" height="49.8" fill="#089981"/>
<rect x="732.27" y="161.9" width="3.90" height="4.9" fill="#089981"/>
<rect x="739.33" y="138.7" width="0.9" height="37.9" fill="#f23645"/>
<rect x="737.83" y="161.9" width="3.90" height="9.8" fill="#f23645"/>
<rect x="744.89" y="135.7" width="0.9" height="36.2" fill="#089981"/>
<rect x="743.39" y="138.1" width="3.90" height="33.2" fill="#089981"/>
<rect x="750.46" y="141.6" width="0.9" height="16.4" fill="#f23645"/>
<rect x="748.96" y="142.4" width="3.90" height="2.1" fill="#f23645"/>
<rect x="756.02" y="133.2" width="0.9" height="21.9" fill="#089981"/>
<rect x="754.52" y="136.5" width="3.90" height="7.4" fill="#089981"/>
<rect x="761.59" y="128.3" width="0.9" height="26.0" fill="#f23645"/>
<rect x="760.09" y="135.7" width="3.90" height="1.0" fill="#f23645"/>
<rect x="767.15" y="118.0" width="0.9" height="51.3" fill="#f23645"/>
<rect x="765.65" y="136.5" width="3.90" height="32.4" fill="#f23645"/>
<rect x="772.71" y="168.8" width="0.9" height="44.9" fill="#f23645"/>
<rect x="771.21" y="168.9" width="3.90" height="22.1" fill="#f23645"/>
<rect x="778.28" y="184.0" width="0.9" height="16.0" fill="#f23645"/>
<rect x="776.78" y="190.5" width="3.90" height="2.0" fill="#f23645"/>
<rect x="783.84" y="193.0" width="0.9" height="10.7" fill="#f23645"/>
<rect x="782.34" y="194.2" width="3.90" height="7.4" fill="#f23645"/>
<rect x="789.40" y="195.1" width="0.9" height="9.8" fill="#089981"/>
<rect x="787.90" y="201.0" width="3.90" height="1.0" fill="#089981"/>
<rect x="794.97" y="195.2" width="0.9" height="46.4" fill="#f23645"/>
<rect x="793.47" y="201.0" width="3.90" height="27.9" fill="#f23645"/>
<rect x="800.53" y="181.8" width="0.9" height="52.4" fill="#089981"/>
<rect x="799.03" y="208.3" width="3.90" height="20.1" fill="#089981"/>
<rect x="806.10" y="201.0" width="0.9" height="69.7" fill="#f23645"/>
<rect x="804.60" y="208.3" width="3.90" height="3.5" fill="#f23645"/>
<rect x="811.66" y="173.5" width="0.9" height="43.1" fill="#089981"/>
<rect x="810.16" y="186.0" width="3.90" height="25.2" fill="#089981"/>
<rect x="817.22" y="168.3" width="0.9" height="31.7" fill="#089981"/>
<rect x="815.72" y="169.0" width="3.90" height="27.4" fill="#089981"/>
<rect x="822.79" y="164.7" width="0.9" height="26.0" fill="#f23645"/>
<rect x="821.29" y="168.4" width="3.90" height="20.5" fill="#f23645"/>
<rect x="828.35" y="187.9" width="0.9" height="26.4" fill="#f23645"/>
<rect x="826.85" y="188.6" width="3.90" height="19.4" fill="#f23645"/>
<rect x="833.91" y="201.6" width="0.9" height="31.1" fill="#089981"/>
<rect x="832.41" y="204.9" width="3.90" height="3.4" fill="#089981"/>
<rect x="839.48" y="151.1" width="0.9" height="57.8" fill="#089981"/>
<rect x="837.98" y="198.1" width="3.90" height="7.3" fill="#089981"/>
<rect x="845.04" y="193.5" width="0.9" height="24.4" fill="#f23645"/>
<rect x="843.54" y="198.1" width="3.90" height="6.4" fill="#f23645"/>
<rect x="850.60" y="205.5" width="0.9" height="23.8" fill="#f23645"/>
<rect x="849.10" y="217.2" width="3.90" height="7.8" fill="#f23645"/>
<rect x="856.17" y="222.5" width="0.9" height="34.2" fill="#f23645"/>
<rect x="854.67" y="224.8" width="3.90" height="15.9" fill="#f23645"/>
<rect x="861.73" y="221.5" width="0.9" height="30.3" fill="#089981"/>
<rect x="860.23" y="221.9" width="3.90" height="18.8" fill="#089981"/>
<rect x="867.30" y="184.8" width="0.9" height="58.2" fill="#089981"/>
<rect x="865.80" y="210.2" width="3.90" height="11.9" fill="#089981"/>
<rect x="872.86" y="107.5" width="0.9" height="105.2" fill="#089981"/>
<rect x="871.36" y="115.9" width="3.90" height="93.9" fill="#089981"/>
<rect x="878.42" y="96.4" width="0.9" height="23.4" fill="#089981"/>
<rect x="876.92" y="104.8" width="3.90" height="11.1" fill="#089981"/>
<rect x="883.99" y="99.3" width="0.9" height="21.5" fill="#089981"/>
<rect x="882.49" y="99.7" width="3.90" height="6.0" fill="#089981"/>
<rect x="889.55" y="80.7" width="0.9" height="24.5" fill="#089981"/>
<rect x="888.05" y="95.4" width="3.90" height="4.5" fill="#089981"/>
<rect x="895.11" y="93.0" width="0.9" height="3.6" fill="#089981"/>
<rect x="893.61" y="93.4" width="3.90" height="3.0" fill="#089981"/>
</g>
<line x1="10" y1="94" x2="954" y2="94" stroke="#089981" stroke-width="1" stroke-dasharray="1 1" opacity="0.6"/>
</svg>
<div class="t" style="left:9.5px;top:9.1px;font-size:12.5px;transform:scaleX(0.8721);">angiepanoyan</div>
<div class="t" style="left:80.8px;top:9.1px;font-size:12.5px;transform:scaleX(0.9402);">created</div>
<div class="t" style="left:122.5px;top:9.1px;font-size:12.5px;transform:scaleX(1.0122);">with</div>
<div class="t" style="left:148.5px;top:9.1px;font-size:12.5px;transform:scaleX(0.8818);">TradingView.com,</div>
<div class="t" style="left:239.8px;top:9.1px;font-size:12.5px;transform:scaleX(0.8733);">Jan</div>
<div class="t" style="left:260.3px;top:9.1px;font-size:12.5px;transform:scaleX(0.8977);">06,</div>
<div class="t" style="left:279.6px;top:9.1px;font-size:12.5px;transform:scaleX(0.8343);">2026</div>
<div class="t" style="left:306.1px;top:9.1px;font-size:12.5px;transform:scaleX(0.8695);">06:06</div>
<div class="t" style="left:336.6px;top:9.1px;font-size:12.5px;transform:scaleX(0.7941);">UTC</div>
<div class="t" style="left:16.6px;top:35.0px;font-size:11.4px;transform:scaleX(0.993);">British Pound / U.S. Dollar</div>
<div class="t" style="left:151.9px;top:35.0px;font-size:11.4px;transform:scaleX(1.0);font-weight:bold;">·</div>
<div class="t" style="left:158.6px;top:35.0px;font-size:11.4px;transform:scaleX(0.9936);">4h</div>
<div class="t" style="left:174.4px;top:35.0px;font-size:11.4px;transform:scaleX(1.0);font-weight:bold;">·</div>
<div class="t" style="left:182.0px;top:35.0px;font-size:11.4px;transform:scaleX(0.923);">FP Markets</div>
<div class="t" style="left:242.6px;top:35.0px;font-size:11.4px;transform:scaleX(0.9346);">O<span class="v">1.35493</span></div>
<div class="t" style="left:295.6px;top:35.0px;font-size:11.4px;transform:scaleX(0.9466);">H<span class="v">1.35519</span></div>
<div class="t" style="left:348.8px;top:35.0px;font-size:11.4px;transform:scaleX(0.9464);">L<span class="v">1.35480</span></div>
<div class="t" style="left:400.4px;top:35.0px;font-size:11.4px;transform:scaleX(0.9383);">C<span class="v">1.35511</span></div>
<div class="t" style="left:452.8px;top:35.0px;font-size:11.4px;transform:scaleX(0.9302);color:#089981;">+0.00017 (+0.01%)</div>
<div class="t" style="left:17.0px;top:50.2px;font-size:11.4px;transform:scaleX(0.9717);">Vol</div>
<div class="t" style="left:38.6px;top:50.2px;font-size:11.4px;transform:scaleX(0.9148);color:#26a69a;">533</div>
<div class="t" style="left:961.7px;top:29.5px;font-size:11.6px;transform:scaleX(0.942);">1.36000</div>
<div class="t" style="left:961.7px;top:148.0px;font-size:11.6px;transform:scaleX(0.942);">1.35000</div>
<div class="t" style="left:961.7px;top:207.2px;font-size:11.6px;transform:scaleX(0.942);">1.34500</div>
<div class="t" style="left:961.7px;top:266.5px;font-size:11.6px;transform:scaleX(0.942);">1.34000</div>
<div class="t" style="left:961.7px;top:325.7px;font-size:11.6px;transform:scaleX(0.942);">1.33500</div>
<div class="t" style="left:961.7px;top:385.0px;font-size:11.6px;transform:scaleX(0.942);">1.33000</div>
<div class="t" style="left:961.7px;top:444.2px;font-size:11.6px;transform:scaleX(0.942);">1.32500</div>
<div class="t" style="left:961.7px;top:503.5px;font-size:11.6px;transform:scaleX(0.942);">1.32000</div>
<div class="t" style="left:961.7px;top:562.7px;font-size:11.6px;transform:scaleX(0.942);">1.31500</div>
<div class="t" style="left:10.4px;top:586.7px;font-size:11.6px;transform:scaleX(0.9);">27</div>
<div class="t" style="left:83.5px;top:586.7px;font-size:11.6px;transform:translateX(-50%) scaleX(0.9);transform-origin:50% 50%;">Dec</div>
<div class="t" style="left:150.0px;top:586.7px;font-size:11.6px;transform:translateX(-50%) scaleX(0.9);transform-origin:50% 50%;">3</div>
<div class="t" style="left:217.0px;top:586.7px;font-size:11.6px;transform:translateX(-50%) scaleX(0.9);transform-origin:50% 50%;">5</div>
<div class="t" style="left:283.5px;top:586.7px;font-size:11.6px;transform:translateX(-50%) scaleX(0.9);transform-origin:50% 50%;">9</div>
<div class="t" style="left:350.0px;top:586.7px;font-size:11.6px;transform:translateX(-50%) scaleX(0.9);transform-origin:50% 50%;">11</div>
<div class="t" style="left:411.3px;top:586.7px;font-size:11.6px;transform:translateX(-50%) scaleX(0.9);transform-origin:50% 50%;">14</div>
<div class="t" style="left:483.7px;top:586.7px;font-size:11.6px;transform:translateX(-50%) scaleX(0.9);transform-origin:50% 50%;">17</div>
<div class="t" style="left:550.5px;top:586.7px;font-size:11.6px;transform:translateX(-50%) scaleX(0.9);transform-origin:50% 50%;">19</div>
<div class="t" style="left:617.2px;top:586.7px;font-size:11.6px;transform:translateX(-50%) scaleX(0.9);transform-origin:50% 50%;">23</div>
<div class="t" style="left:684.0px;top:586.7px;font-size:11.6px;transform:translateX(-50%) scaleX(0.9);transform-origin:50% 50%;">25</div>
<div class="t" style="left:756.5px;top:586.7px;font-size:11.6px;transform:translateX(-50%) scaleX(0.9);transform-origin:50% 50%;">30</div>
<div class="t" style="left:817.6px;top:586.7px;font-size:11.6px;transform:translateX(-50%) scaleX(0.99);font-weight:bold;transform-origin:50% 50%;">2026</div>
<div class="t" style="left:890.0px;top:586.7px;font-size:11.6px;transform:translateX(-50%) scaleX(0.9);transform-origin:50% 50%;">6</div>
<div class="pbox"></div>
<div class="vbox"></div>
<div class="t" style="left:962.8px;top:88.1px;font-size:11.6px;transform:scaleX(0.93);color:#fff;font-weight:bold;-webkit-text-stroke:0;">1.35511</div>
<div class="t" style="left:962.5px;top:101.4px;font-size:11.6px;transform:scaleX(0.965);color:#d9f0ec;-webkit-text-stroke:0;">03:53:56</div>
<div class="t" style="left:962.9px;top:565.7px;font-size:11.4px;transform:scaleX(0.92);color:#fff;-webkit-text-stroke:0;">533</div>
<svg class="chart" width="1024" height="661" viewBox="0 0 1024 661">
<g transform="translate(895.4,567)">
<circle r="10" fill="#fff"/>
<circle r="9.2" fill="none" stroke="#9c27b0" stroke-width="1.6"/>
<path d="M3 -5 L1.3 -5 L-4.4 0.7 L-0.9 0.7 L-3.7 5 L-2.3 5 L4.4 -0.7 L0.9 -0.7 Z" fill="#9c27b0"/>
<circle cx="6.3" cy="-6.4" r="4.1" fill="#fff"/>
<circle cx="6.3" cy="-6.4" r="2.5" fill="#f23645"/>
</g>
<g transform="translate(939.5,567.1)">
<clipPath id="fc"><circle r="7.6"/></clipPath>
<circle r="9.65" fill="#fff" stroke="#f23645" stroke-width="1.8"/>
<g clip-path="url(#fc)">
<rect x="-8" y="-8" width="16" height="16" fill="#f5f5f7"/>
<rect x="-8" y="-6.9" width="16" height="2.5" fill="#ef5350"/>
<rect x="-8" y="-1.5" width="16" height="3.2" fill="#ef5350"/>
<rect x="-8" y="4.3" width="16" height="2.8" fill="#ef5350"/>
<rect x="-8" y="-8" width="9.5" height="9.7" fill="#4a90e2"/>
<g fill="#cfe3fa"><circle cx="-5" cy="-5.4" r="0.6"/><circle cx="-2.4" cy="-5.4" r="0.6"/><circle cx="0.2" cy="-5.4" r="0.6"/><circle cx="-6" cy="-2.9" r="0.6"/><circle cx="-3.6" cy="-2.9" r="0.6"/><circle cx="-1.2" cy="-2.9" r="0.6"/><circle cx="-5" cy="-0.4" r="0.6"/><circle cx="-2.4" cy="-0.4" r="0.6"/><circle cx="0.2" cy="-0.4" r="0.6"/></g>
</g>
</g>
<g transform="translate(11.3,626.1)" fill="#0c0e15">
<path d="M0 0 H11.2 V13.2 H5.6 V5.6 H0 Z"/>
<circle cx="14.6" cy="2.7" r="2.7"/>
<path d="M20.2 0 H27.8 L22.2 13.2 H14.6 Z"/>
</g>
</svg>
<div class="t" style="left:45.6px;top:625.1px;font-size:17.7px;transform:scaleX(1.077);color:#0c0e15;font-weight:bold;-webkit-text-stroke:0;">TradingView</div>
</body></html>
